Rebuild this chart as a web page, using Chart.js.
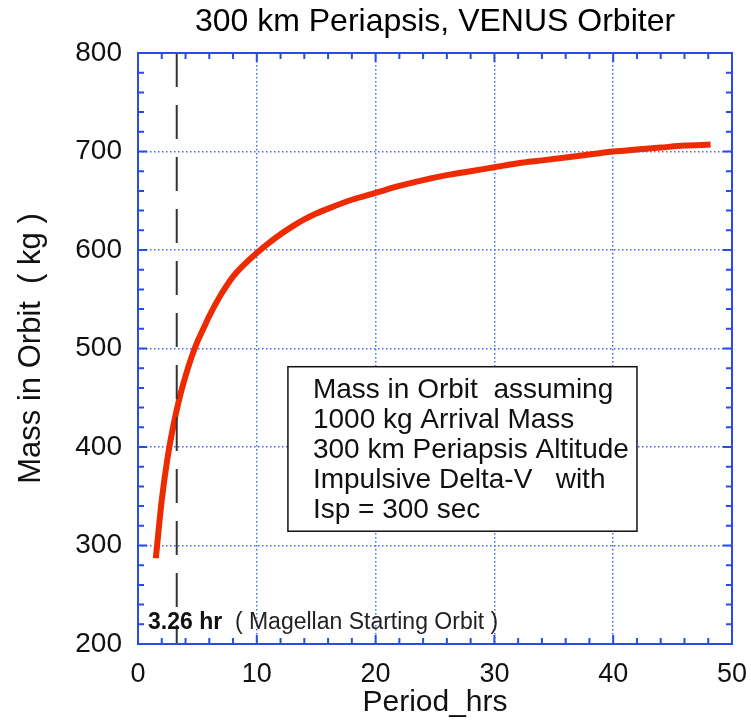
<!DOCTYPE html>
<html>
<head>
<meta charset="utf-8">
<title>300 km Periapsis, VENUS Orbiter</title>
<script src="https://cdn.jsdelivr.net/npm/chart.js@4.4.1/dist/chart.umd.min.js"></script>
<style>
  html, body { margin: 0; padding: 0; background: #fff; }
  canvas { display: block; }
</style>
</head>
<body>
<canvas id="orbitChart" width="751" height="721"></canvas>
<script>
// values
const periodHrs = [1.5, 2.0, 2.5, 3.0, 3.5, 4.0, 4.5, 5.0, 5.5, 6.0, 7.0, 8.0, 9.0, 10, 11, 12, 13, 14, 15, 16,
  18, 20, 22, 24, 26, 28, 30, 32, 34, 36, 38, 40, 42, 44, 46, 48.2];
const massKg = [287, 346, 390, 423, 450, 472, 491, 507, 520, 533, 555, 573, 586, 597, 607, 616, 624, 631, 637, 642,
  651, 658, 665, 671, 676, 680, 684, 688, 691, 694, 697, 700, 702, 704, 706, 707];

const magellanPeriod = 3.26;
const xTicks = [0, 10, 20, 30, 40, 50];
const yTicks = [200, 300, 400, 500, 600, 700, 800];

const noteLines = [
  "Mass in Orbit  assuming",
  "1000 kg Arrival Mass",
  "300 km Periapsis Altitude",
  "Impulsive Delta-V   with",
  "Isp = 300 sec"
];
const magellanBold = "3.26 hr";
const magellanText = "  ( Magellan Starting Orbit )";

const BLUE = "#2a4be8";
const FONT = '"Liberation Sans", Arial, Helvetica, sans-serif';

const frameAndNotes = {
  id: "frameAndNotes",
  beforeDatasetsDraw(chart) {
    const { ctx, scales: { x, y } } = chart;
    const left = x.getPixelForValue(12.62);
    const right = x.getPixelForValue(42.0);
    const top = y.getPixelForValue(481.5);
    const bottom = y.getPixelForValue(314.5);
    ctx.save();
    ctx.fillStyle = "#fff";
    ctx.fillRect(left, top, right - left, bottom - top);
    ctx.strokeStyle = "#111";
    ctx.lineWidth = 1.5;
    ctx.strokeRect(left, top, right - left, bottom - top);
    ctx.fillStyle = "#111";
    ctx.font = "28px " + FONT;
    ctx.textBaseline = "alphabetic";
    noteLines.forEach((t, i) => ctx.fillText(t, left + 25, top + 31 + i * 30));
    ctx.restore();
  },
  afterDraw(chart) {
    const { ctx, chartArea: a, scales: { x, y } } = chart;
    ctx.save();
    ctx.strokeStyle = BLUE;
    ctx.lineWidth = 2;
    ctx.beginPath();
    // inward ticks on all four sides
    for (let v = 0; v <= 50; v += 2) {
      const px = x.getPixelForValue(v);
      const len = v % 10 === 0 ? 9 : 6;
      ctx.moveTo(px, a.bottom); ctx.lineTo(px, a.bottom - len);
      ctx.moveTo(px, a.top); ctx.lineTo(px, a.top + len);
    }
    for (let v = 200; v <= 800; v += 20) {
      const py = y.getPixelForValue(v);
      const len = v % 100 === 0 ? 9 : 6;
      ctx.moveTo(a.left, py); ctx.lineTo(a.left + len, py);
      ctx.moveTo(a.right, py); ctx.lineTo(a.right - len, py);
    }
    ctx.stroke();
    ctx.strokeRect(a.left, a.top, a.right - a.left, a.bottom - a.top);

    // Magellan label
    const lx = x.getPixelForValue(0.84);
    const ly = y.getPixelForValue(215);
    ctx.fillStyle = "#111";
    ctx.textBaseline = "alphabetic";
    ctx.font = "bold 23px " + FONT;
    ctx.fillText(magellanBold, lx, ly);
    const w = ctx.measureText(magellanBold).width;
    ctx.fillStyle = "#222";
    ctx.font = "23px " + FONT;
    ctx.fillText(magellanText, lx + w, ly);
    ctx.restore();
  }
};

new Chart(document.getElementById("orbitChart"), {
  type: "line",
  data: {
    datasets: [
      {
        label: "Magellan",
        data: [{ x: magellanPeriod, y: 800 }, { x: magellanPeriod, y: 200 }],
        borderColor: "#333",
        borderWidth: 2,
        borderDash: [34, 18],
        pointRadius: 0,
        order: 0
      },
      {
        label: "Mass in Orbit",
        data: periodHrs.map((p, i) => ({ x: p, y: massKg[i] })),
        borderColor: "#ee2a00",
        borderWidth: 6,
        pointRadius: 0,
        cubicInterpolationMode: "monotone",
        order: 1
      }
    ]
  },
  options: {
    responsive: false,
    animation: false,
    layout: { padding: { left: 0, right: 19, top: 0, bottom: 0 } },
    plugins: {
      legend: { display: false },
      tooltip: { enabled: false },
      title: {
        display: true,
        text: "300 km Periapsis, VENUS Orbiter",
        fullSize: false,
        color: "#000",
        font: { family: FONT, size: 32, weight: "normal" },
        padding: { top: 3, bottom: 11.6 }
      }
    },
    scales: {
      x: {
        type: "linear",
        min: 0,
        max: 50,
        afterBuildTicks: s => { s.ticks = xTicks.map(v => ({ value: v })); },
        afterFit: s => { s.height = 77; s.paddingLeft = 0; s.paddingRight = 0; },
        grid: { color: "#4a6af0", lineWidth: 1.5, drawTicks: false },
        border: { display: false, dash: [1.5, 2.5] },
        ticks: { color: "#111", padding: 14, maxRotation: 0, font: { family: FONT, size: 27 } },
        title: {
          display: true,
          text: "Period_hrs",
          color: "#111",
          font: { family: FONT, size: 30 },
          padding: { top: 0, bottom: 0 }
        }
      },
      y: {
        type: "linear",
        min: 200,
        max: 800,
        afterBuildTicks: s => { s.ticks = yTicks.map(v => ({ value: v })); },
        afterFit: s => { s.width = 138; },
        grid: { color: "#4a6af0", lineWidth: 1.5, drawTicks: false },
        border: { display: false, dash: [1.5, 2.5] },
        ticks: { color: "#111", padding: 16, font: { family: FONT, size: 28 } },
        title: {
          display: true,
          text: "Mass in Orbit  ( kg )",
          color: "#111",
          font: { family: FONT, size: 31 },
          padding: { top: 13, bottom: 0 }
        }
      }
    }
  },
  plugins: [frameAndNotes]
});
</script>
</body>
</html>
